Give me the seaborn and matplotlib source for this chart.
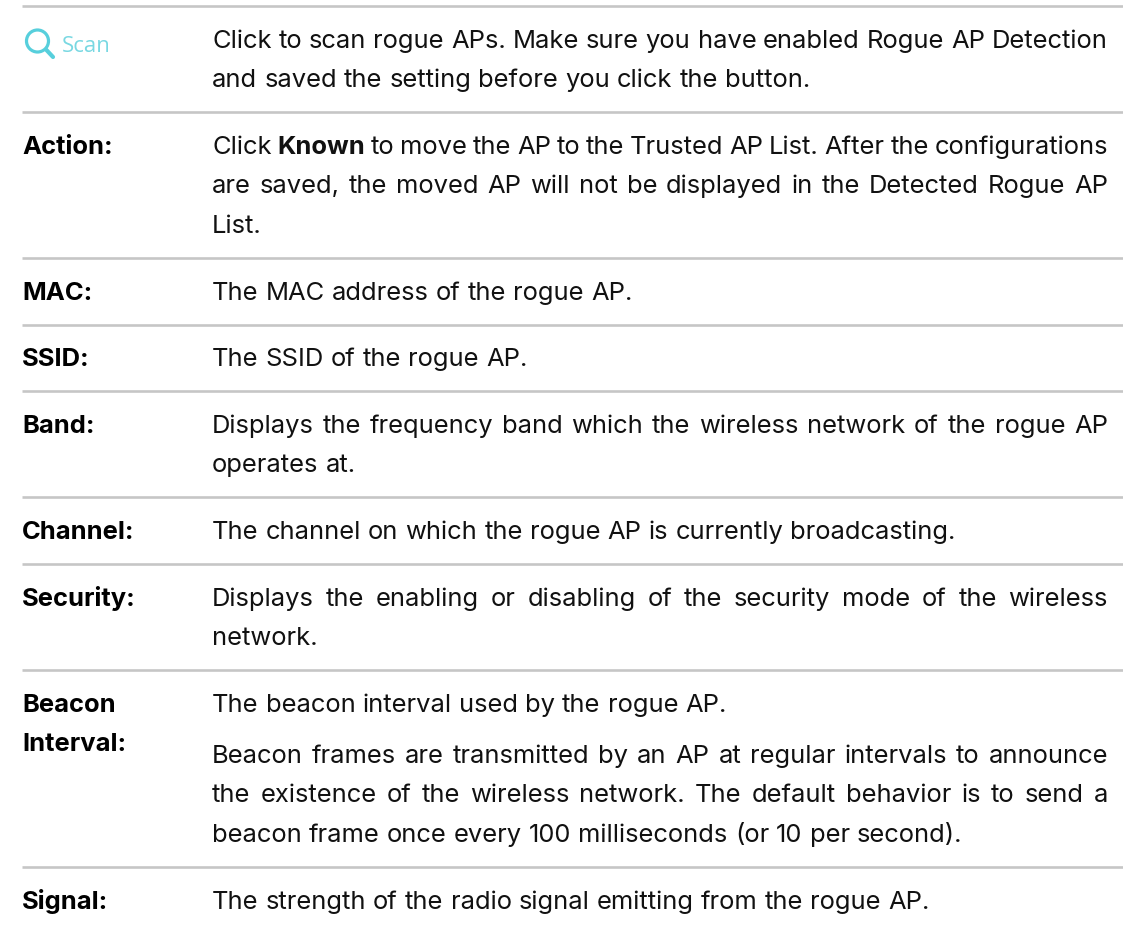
import matplotlib
matplotlib.use("Agg")
import matplotlib.pyplot as plt
import seaborn as sns
from matplotlib.patches import Circle
from matplotlib.lines import Line2D

sns.set_theme(style="white", rc={"font.family": ["Inter", "DejaVu Sans"]})

W, H = 1123, 929
LEFT_X, TEXT_X, RIGHT_X, RULE_END = 22, 212, 1108, 1123
FS = 18.4
INK = "#111111"

row_labels = [["Action:"], ["MAC:"], ["SSID:"], ["Band:"], ["Channel:"], ["Security:"],
              ["Beacon", "Interval:"], ["Signal:"]]
label_ys = [[154], [300], [366], [433], [539], [606], [712, 751], [909]]

# each line: (baseline y, justified, text); **word** marks bold
body_lines = [
    (48, True, "Click to scan rogue APs. Make sure you have enabled Rogue AP Detection"),
    (87, False, "and saved the setting before you click the button."),
    (154, True, "Click **Known** to move the AP to the Trusted AP List. After the configurations"),
    (193, True, "are saved, the moved AP will not be displayed in the Detected Rogue AP"),
    (233, False, "List."),
    (300, False, "The MAC address of the rogue AP."),
    (366, False, "The SSID of the rogue AP."),
    (433, True, "Displays the frequency band which the wireless network of the rogue AP"),
    (472, False, "operates at."),
    (539, False, "The channel on which the rogue AP is currently broadcasting."),
    (606, True, "Displays the enabling or disabling of the security mode of the wireless"),
    (645, False, "network."),
    (712, False, "The beacon interval used by the rogue AP."),
    (763, True, "Beacon frames are transmitted by an AP at regular intervals to announce"),
    (802, True, "the existence of the wireless network. The default behavior is to send a"),
    (842, False, "beacon frame once every 100 milliseconds (or 10 per second)."),
    (909, False, "The strength of the radio signal emitting from the rogue AP."),
]
rule_ys = [7, 113, 259, 326, 392, 498, 565, 671, 868]

fig = plt.figure(figsize=(W / 100, H / 100), dpi=100, facecolor="white")
ax = fig.add_axes([0, 0, 1, 1])
ax.set_xlim(0, W)
ax.set_ylim(H, 0)
ax.axis("off")
sns.despine(ax=ax, left=True, bottom=True)
renderer = fig.canvas.get_renderer()


def width(s, weight):
    t = ax.text(0, 0, s, fontsize=FS, fontweight=weight)
    w = t.get_window_extent(renderer).width
    t.remove()
    return w


space = width("a a", "normal") - width("aa", "normal")

for y in rule_ys:
    ax.plot([LEFT_X, RULE_END], [y, y], color="#c6c6c6", lw=1.9, solid_capstyle="butt")

for labels, ys in zip(row_labels, label_ys):
    for s, y in zip(labels, ys):
        ax.text(LEFT_X, y, s, fontsize=FS, fontweight="bold", color="#000000", va="baseline")

for y, just, line in body_lines:
    words = []
    for w in line.split(" "):
        b = w.startswith("**")
        words.append((w.strip("*"), "bold" if b else "normal"))
    widths = [width(w, wt) for w, wt in words]
    gap = space
    if just and len(words) > 1:
        gap = (RIGHT_X - TEXT_X - sum(widths)) / (len(words) - 1)
    x = TEXT_X
    for (w, wt), ww in zip(words, widths):
        ax.text(x, y, w, fontsize=FS, fontweight=wt, color=INK, va="baseline")
        x += ww + gap

# Scan button
CY = "#57cfdc"
ax.add_patch(Circle((37.5, 42), 11, fill=False, ec=CY, lw=2.3))
ax.add_line(Line2D([46, 53], [50.5, 58], color=CY, lw=3.0, solid_capstyle="round"))
ax.text(62, 52, "Scan", fontsize=16, color="#79d8e2", va="baseline", family="Open Sans")

fig.savefig("out.png", dpi=100, facecolor="white")
